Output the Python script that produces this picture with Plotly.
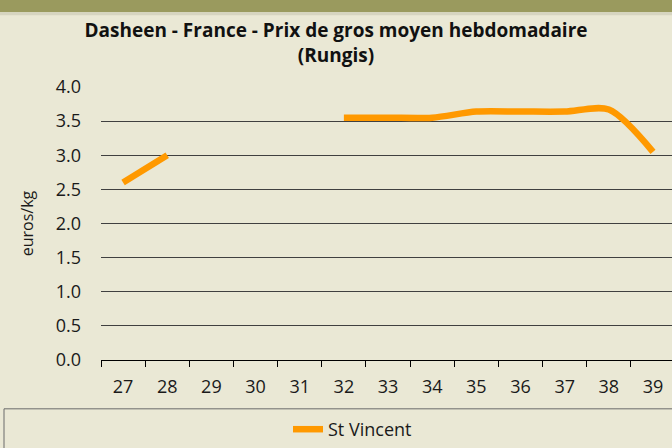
import plotly.graph_objects as go

weeks = ["27", "28", "29", "30", "31", "32", "33", "34", "35", "36", "37", "38", "39"]
st_vincent = [2.6, 3.0, None, None, None, 3.55, 3.55, 3.55, 3.64, 3.64, 3.64, 3.67, 3.05]
y_ticks = [0.0, 0.5, 1.0, 1.5, 2.0, 2.5, 3.0, 3.5, 4.0]

BG = "#EAE8D5"
FONT = "Open Sans"
TXT = "#1a1a1a"

fig = go.Figure()
fig.add_trace(go.Scatter(
    x=weeks, y=st_vincent, mode="lines", name="St Vincent",
    line=dict(color="#FF9900", width=6.5, shape="spline", smoothing=0.8),
    connectgaps=False,
))

W, H = 672, 448
L, R, T, B = 101, 0, 87, 87
pw, ph = W - L - R, H - T - B

def py(p):  # pixel-from-top -> paper y
    return (H - B - p) / ph

def px(p):
    return (p - L) / pw

fig.update_layout(
    width=W, height=H,
    margin=dict(l=L, r=R, t=T, b=B),
    paper_bgcolor=BG, plot_bgcolor=BG,
    font=dict(family=FONT, size=16, color=TXT),
    title=dict(
        text="<b>Dasheen - France - Prix de gros moyen hebdomadaire<br>(Rungis)</b>",
        x=0.5, xref="container", xanchor="center", y=1 - 37 / H, yanchor="middle",
        font=dict(family=FONT, size=19, color="#111111"),
    ),
    showlegend=True,
    legend=dict(
        orientation="h", x=px(288), xanchor="left", y=py(431), yanchor="middle",
        bgcolor="rgba(0,0,0,0)", borderwidth=0,
        font=dict(family=FONT, size=18, color=TXT),
        itemwidth=30,
    ),
    shapes=[
        dict(type="rect", xref="paper", yref="paper", x0=px(-5), x1=px(680),
             y0=py(12), y1=py(-5), fillcolor="#9A9A5E", line=dict(width=0), layer="above"),
        dict(type="rect", xref="paper", yref="paper", x0=px(-5), x1=px(680),
             y0=py(15), y1=py(12), fillcolor="#D6D4C0", line=dict(width=0), layer="above"),
        dict(type="rect", xref="paper", yref="paper", x0=px(4), x1=px(690),
             y0=py(460), y1=py(410), fillcolor="rgba(0,0,0,0)",
             line=dict(color="#6b6b6b", width=1), layer="above"),
    ],
)

fig.update_xaxes(
    type="category", range=[-0.5, 12.43],
    showgrid=False, showline=True, linecolor="#000000", linewidth=1,
    ticks="outside", tickson="boundaries", ticklen=6, tickcolor="#000000",
    ticklabelstandoff=10,
    tickfont=dict(family=FONT, size=18, color=TXT),
)
fig.update_yaxes(
    range=[0, 4.0], tickvals=y_ticks, ticktext=[f"{v:.1f}" for v in y_ticks],
    showgrid=True, gridcolor="#404040", gridwidth=1,
    zeroline=False, showline=False,
    ticks="", ticklabelstandoff=19,
    tickfont=dict(family=FONT, size=18, color=TXT),
    title=dict(text="euros/kg", standoff=18, font=dict(family=FONT, size=16, color=TXT)),
)

fig.write_html(
    "out.html",
    config={"displayModeBar": False},
    post_script="document.body.style.margin='0';document.body.style.overflow='hidden';",
)
